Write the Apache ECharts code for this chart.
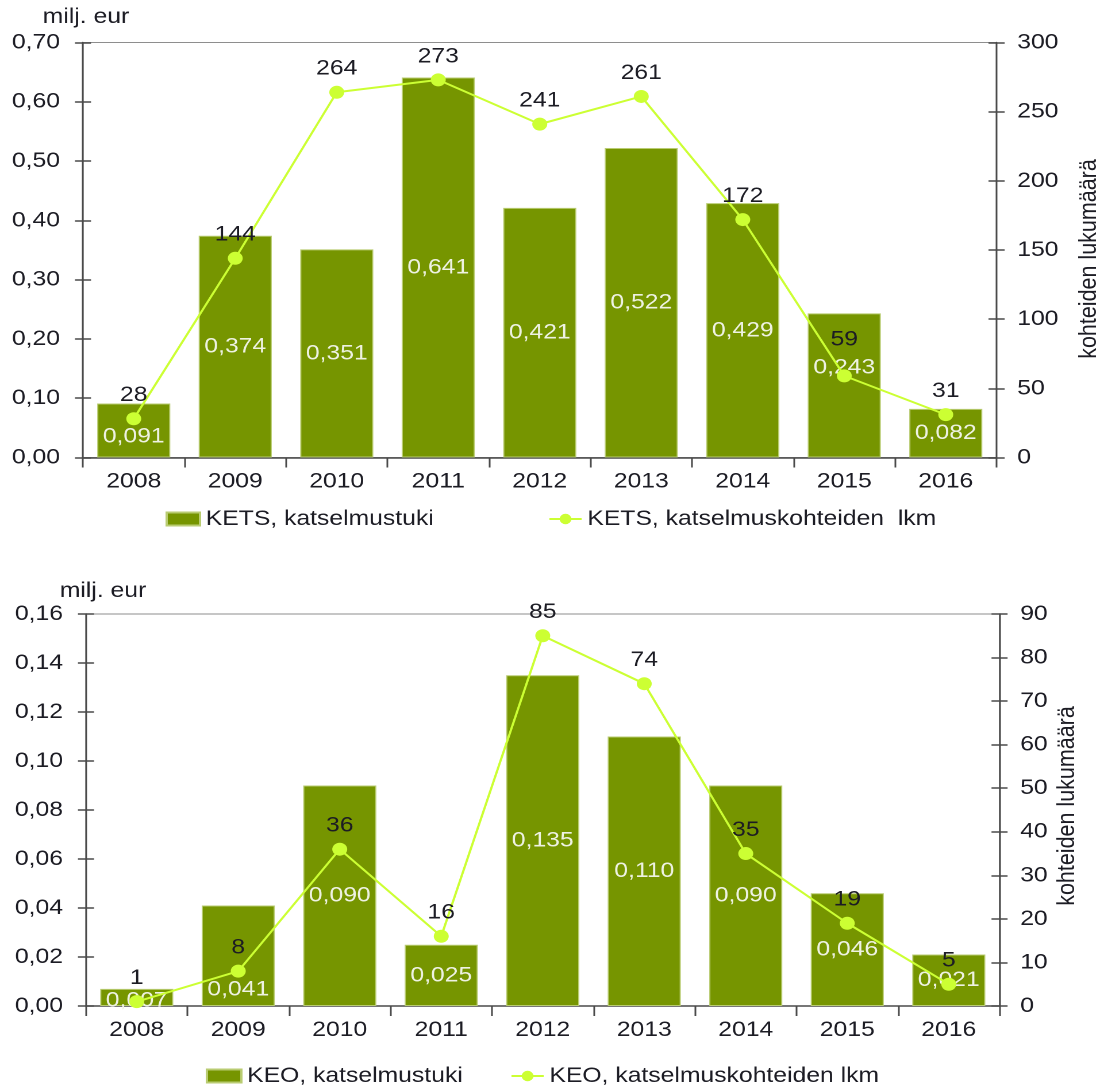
<!DOCTYPE html>
<html>
<head>
<meta charset="utf-8">
<script src="https://cdn.jsdelivr.net/npm/echarts@6/dist/echarts.min.js"></script>
<style>
  html, body { margin: 0; padding: 0; background: #ffffff; overflow: hidden; }
  #wrap { width: 1108px; height: 1086px; overflow: hidden; }
  #chart { width: 964px; height: 1086px; transform: scaleX(1.1494); transform-origin: 0 0; }
</style>
</head>
<body>
<div id="wrap"><div id="chart"></div></div>
<script>
// Years shown on both charts
const years = ['2008', '2009', '2010', '2011', '2012', '2013', '2014', '2015', '2016'];

// KETS: audit subsidy (million EUR) and number of audited sites
const ketsSubsidy = [0.091, 0.374, 0.351, 0.641, 0.421, 0.522, 0.429, 0.243, 0.082];
const ketsSites = [28, 144, 264, 273, 241, 261, 172, 59, 31];

// KEO: audit subsidy (million EUR) and number of audited sites
const keoSubsidy = [0.007, 0.041, 0.090, 0.025, 0.135, 0.110, 0.090, 0.046, 0.021];
const keoSites = [1, 8, 36, 16, 85, 74, 35, 19, 5];

// Axis ranges
const ketsLeftAxis = { min: 0, max: 0.70, interval: 0.10 };
const ketsRightAxis = { min: 0, max: 300, interval: 50 };
const keoLeftAxis = { min: 0, max: 0.16, interval: 0.02 };
const keoRightAxis = { min: 0, max: 90, interval: 10 };

const names = {
  ketsBar: 'KETS, katselmustuki',
  ketsLine: 'KETS, katselmuskohteiden  lkm',
  keoBar: 'KEO, katselmustuki',
  keoLine: 'KEO, katselmuskohteiden lkm'
};

const FONT = '"Liberation Sans", Arial, Helvetica, sans-serif';
const BAR = '#769500';
const LINE = '#ccff33';
const AXIS = '#4a4a4a';
const TEXT = '#1c1c24';
const FS = 21.5;

const comma = (v, d) => v.toFixed(d).replace('.', ',');

// Small label nudges where labels would otherwise collide
const barNudgeKets = { 0: [0, 6], 7: [0, -18] };
const lineNudgeKets = { 7: [0, -13] };
const barNudgeKeo = { 0: [0, 3], 1: [0, 34] };
const lineNudgeKeo = {};

function items(values, nudge) {
  return values.map((v, i) => nudge[i] ? { value: v, label: { offset: nudge[i] } } : v);
}

function xAxisFor(grid) {
  return {
    type: 'category', gridIndex: grid, data: years,
    axisLine: { lineStyle: { color: AXIS, width: 1.5 } },
    axisTick: { show: true, length: 10, lineStyle: { color: AXIS, width: 1.5 } },
    axisLabel: { color: TEXT, fontSize: FS, fontFamily: FONT, margin: 13 },
    splitLine: { show: false }
  };
}

function yAxisFor(grid, pos, range, fmt, inner) {
  return {
    type: 'value', gridIndex: grid, position: pos,
    min: range.min, max: range.max, interval: range.interval,
    axisLine: { show: !inner, onZero: false, lineStyle: { color: AXIS, width: 1.5 } },
    axisTick: { show: true, inside: !!inner, length: 7, lineStyle: { color: AXIS, width: 1.5 } },
    axisLabel: {
      show: !inner, color: TEXT, fontSize: FS, fontFamily: FONT,
      margin: pos === 'left' ? 20 : 18, formatter: fmt
    },
    splitLine: { show: false }
  };
}

function legendFor(name, left, top, width, icon) {
  const item = icon ? { name: name, icon: icon } : { name: name };
  return {
    data: [item], left: left, top: top,
    itemWidth: width, itemHeight: 13, itemGap: 0,
    selectedMode: false,
    textStyle: { color: TEXT, fontSize: FS, fontFamily: FONT, padding: [0, 0, 0, 0] }
  };
}

function barSeries(name, data, nudge, xi, yi) {
  return {
    name: name, type: 'bar', xAxisIndex: xi, yAxisIndex: yi,
    data: items(data, nudge), barWidth: '72%',
    itemStyle: { color: BAR, borderColor: '#b9cc72', borderWidth: 1 },
    label: {
      show: true, position: 'inside', color: '#eef2e2',
      fontSize: FS, fontFamily: FONT,
      formatter: p => comma(p.value, 3)
    },
    z: 2
  };
}

function lineSeries(name, data, nudge, xi, yi) {
  return {
    name: name, type: 'line', xAxisIndex: xi, yAxisIndex: yi,
    data: items(data, nudge),
    symbol: 'circle', symbolSize: 13,
    lineStyle: { color: LINE, width: 2 },
    itemStyle: { color: LINE },
    label: {
      show: true, position: 'top', distance: 6, color: TEXT,
      fontSize: FS, fontFamily: FONT
    },
    z: 3
  };
}

const chart = echarts.init(document.getElementById('chart'), null, { renderer: 'canvas', devicePixelRatio: 2 });

const option = {
  animation: false,
  backgroundColor: '#ffffff',
  grid: [
    { left: 72.2, top: 42.5, width: 794.8, height: 415, show: true, borderColor: '#8e8e8e', borderWidth: 1, containLabel: false },
    { left: 74.8, top: 614, width: 794.8, height: 392, show: true, borderColor: '#8e8e8e', borderWidth: 1, containLabel: false }
  ],
  xAxis: [xAxisFor(0), xAxisFor(1)],
  yAxis: [
    yAxisFor(0, 'left', ketsLeftAxis, v => comma(v, 2)),
    yAxisFor(0, 'right', ketsRightAxis, v => String(v)),
    yAxisFor(0, 'left', ketsLeftAxis, null, true),
    yAxisFor(0, 'right', ketsRightAxis, null, true),
    yAxisFor(1, 'left', keoLeftAxis, v => comma(v, 2)),
    yAxisFor(1, 'right', keoRightAxis, v => String(v)),
    yAxisFor(1, 'left', keoLeftAxis, null, true),
    yAxisFor(1, 'right', keoRightAxis, null, true)
  ],
  legend: [
    legendFor(names.ketsBar, 139, 503, 29, 'rect'),
    legendFor(names.ketsLine, 472, 503, 28),
    legendFor(names.keoBar, 174, 1060, 30, 'rect'),
    legendFor(names.keoLine, 439, 1060, 28)
  ],
  graphic: [
    { type: 'text', x: 74.8, y: 17, style: { text: 'milj. eur', fill: TEXT, font: FS + 'px ' + FONT, align: 'center', verticalAlign: 'middle' } },
    { type: 'text', x: 89.6, y: 591, style: { text: 'milj. eur', fill: TEXT, font: FS + 'px ' + FONT, align: 'center', verticalAlign: 'middle' } },
    { type: 'text', x: 947.8, y: 259, rotation: Math.PI / 2, style: { text: 'kohteiden lukumäärä', fill: TEXT, font: FS + 'px ' + FONT, align: 'center', verticalAlign: 'middle' } },
    { type: 'text', x: 928.7, y: 806, rotation: Math.PI / 2, style: { text: 'kohteiden lukumäärä', fill: TEXT, font: FS + 'px ' + FONT, align: 'center', verticalAlign: 'middle' } }
  ],
  series: [
    barSeries(names.ketsBar, ketsSubsidy, barNudgeKets, 0, 0),
    lineSeries(names.ketsLine, ketsSites, lineNudgeKets, 0, 1),
    barSeries(names.keoBar, keoSubsidy, barNudgeKeo, 1, 4),
    lineSeries(names.keoLine, keoSites, lineNudgeKeo, 1, 5)
  ]
};

chart.setOption(option);
</script>
</body>
</html>
